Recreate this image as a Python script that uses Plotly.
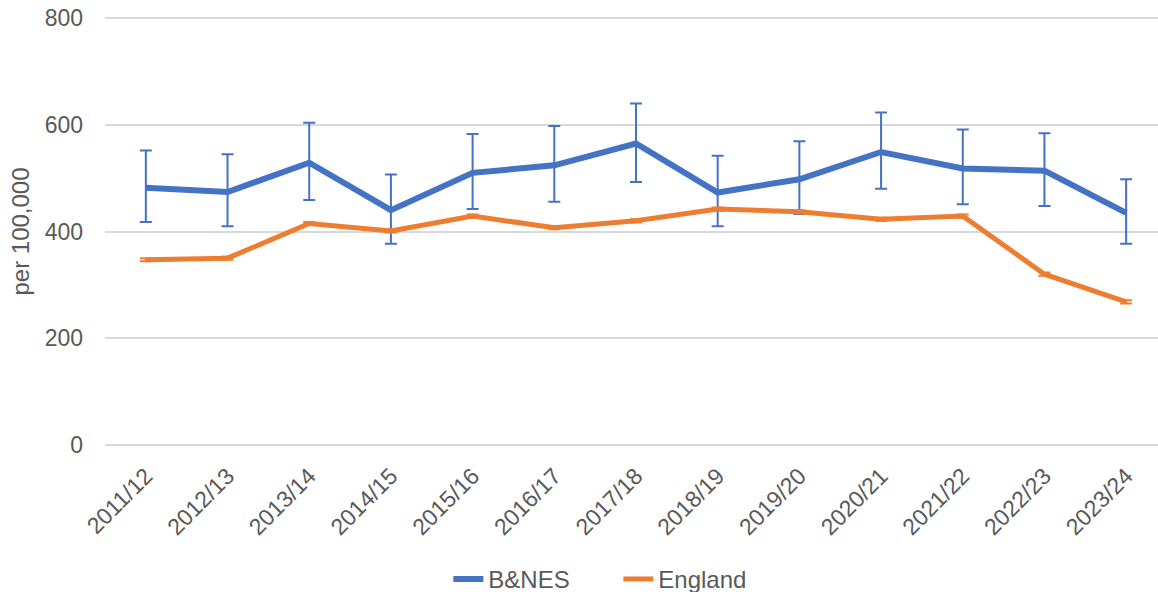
import plotly.graph_objects as go

years = ["2011/12", "2012/13", "2013/14", "2014/15", "2015/16", "2016/17", "2017/18",
         "2018/19", "2019/20", "2020/21", "2021/22", "2022/23", "2023/24"]
bnes = [482, 474, 529, 440, 510, 524, 565, 473, 498, 549, 518, 514, 435]
bnes_upper = [552, 545, 604, 507, 583, 598, 640, 542, 569, 623, 591, 584, 498]
bnes_lower = [418, 410, 459, 377, 442, 456, 493, 410, 433, 480, 451, 448, 377]
england = [347, 350, 415, 401, 429, 407, 420, 442, 437, 423, 429, 320, 268]
england_upper = [350, 353, 418, 404, 432, 410, 423, 445, 440, 426, 432, 323, 271]
england_lower = [344, 347, 412, 398, 426, 404, 417, 439, 434, 420, 426, 317, 265]

blue = "#4472C4"
orange = "#ED7D31"
grey = "#595959"

fig = go.Figure()
fig.add_trace(go.Scatter(
    x=years, y=bnes, mode="lines", name="B&NES",
    line=dict(color=blue, width=6),
    error_y=dict(type="data", symmetric=False,
                 array=[u - v for u, v in zip(bnes_upper, bnes)],
                 arrayminus=[v - l for v, l in zip(bnes, bnes_lower)],
                 color=blue, thickness=2, width=6),
))
fig.add_trace(go.Scatter(
    x=years, y=england, mode="lines", name="England",
    line=dict(color=orange, width=5),
    error_y=dict(type="data", symmetric=False,
                 array=[u - v for u, v in zip(england_upper, england)],
                 arrayminus=[v - l for v, l in zip(england, england_lower)],
                 color=orange, thickness=2, width=6),
))

fig.update_layout(
    width=1158, height=592,
    margin=dict(l=105, r=0, t=15.865, b=144.865, autoexpand=False),
    paper_bgcolor="white", plot_bgcolor="white",
    font=dict(family="Liberation Sans, Arial, sans-serif", size=22, color=grey),
    showlegend=True,
    legend=dict(orientation="h", x=0.4875, xanchor="center", y=-0.307, yanchor="middle",
                font=dict(size=24, color=grey), entrywidth=125, entrywidthmode="pixels"),
    xaxis=dict(type="category", range=[-0.5, 12.39], tickangle=-45, automargin=False,
               showgrid=False, zeroline=False, showline=False, ticks="", ticklabelstandoff=10,
               tickfont=dict(size=23, color=grey)),
    yaxis=dict(range=[-4, 804], tickvals=[0, 200, 400, 600, 800], automargin=False,
               showgrid=True, gridcolor="#d9d9d9", gridwidth=1.5,
               zeroline=False, showline=False, ticks="", ticklabelstandoff=21,
               tickfont=dict(size=23, color=grey),
               title=dict(text="per 100,000", font=dict(size=24, color=grey), standoff=8)),
)

fig.write_html("out.html", config={"displayModeBar": False},
               post_script="document.body.style.margin='0';")
